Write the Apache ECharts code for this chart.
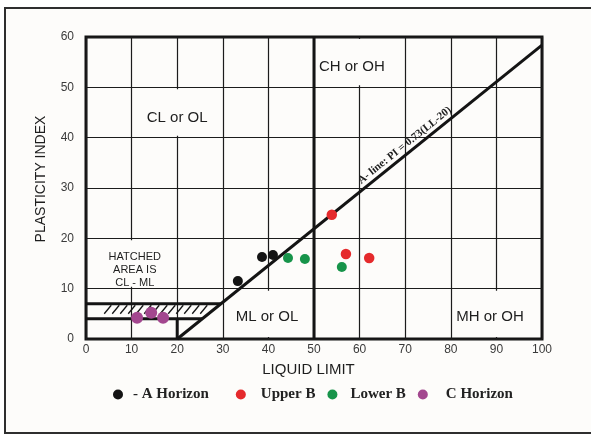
<!DOCTYPE html>
<html>
<head>
<meta charset="utf-8">
<title>Plasticity chart</title>
<script src="https://cdn.jsdelivr.net/npm/echarts@6/dist/echarts.min.js"></script>
<style>
  html, body { margin: 0; padding: 0; background: #ffffff; }
  #chart { width: 591px; height: 436px; }
</style>
</head>
<body>
<div id="chart"></div>
<script>
// Liquid limit (LL, %) and plasticity index (PI, %) of the samples, by horizon
const aHorizonLL = [33.3, 38.6, 41.0];
const aHorizonPI = [11.5, 16.3, 16.7];
const upperBLL = [53.9, 57.0, 62.1];
const upperBPI = [24.7, 16.9, 16.1];
const lowerBLL = [44.3, 48.0, 56.1];
const lowerBPI = [16.1, 15.9, 14.3];
const cHorizonLL = [11.2, 14.3, 16.9];
const cHorizonPI = [4.2, 5.2, 4.2];

const seriesNames = ['A Horizon', 'Upper B', 'Lower B', 'C Horizon'];
const legendLabels = ['- A Horizon\u00a0\u00a0\u00a0\u00a0', 'Upper B', 'Lower B', 'C Horizon'];

// Axis ticks
const llTicks = [0, 10, 20, 30, 40, 50, 60, 70, 80, 90, 100];
const piTicks = [0, 10, 20, 30, 40, 50, 60];

// Casagrande classification lines
const aLineSlope = 0.73;
const aLineOrigin = 20;
const llDivide = 50;
const clmlBand = [4, 7];

// Soil-group zones: names, text anchors (LL, PI) and the grid cell span each label clears
const zoneNames = ['CL or OL', 'CH or OH', 'ML or OL', 'MH or OH', 'HATCHED\nAREA IS\nCL - ML'];
const zoneAnchors = [[20, 44], [58.3, 54], [39.7, 4.3], [88.6, 4.4], [10.7, 13.7]];
const zoneCells = [[12, 28, 40, 50], [52, 68, 50, 60], [33, 47, 0, 10], [82, 98, 0, 10], [2, 18, 10, 20]];

const aLine = ll => aLineSlope * (ll - aLineOrigin);
const aLineLL = pi => aLineOrigin + pi / aLineSlope;

const paper = '#fdfcfa';
const ink = '#141414';
const sans = "'Liberation Sans', Arial, sans-serif";
const serif = "'Liberation Serif', 'Times New Roman', serif";

const xMin = llTicks[0], xMax = llTicks[llTicks.length - 1];
const yMin = piTicks[0], yMax = piTicks[piTicks.length - 1];

const boundaryLines = [
  [llDivide, yMin, llDivide, yMax],
  [xMin, clmlBand[0], aLineLL(clmlBand[0]), clmlBand[0]],
  [xMin, clmlBand[1], aLineLL(clmlBand[1]), clmlBand[1]],
  [aLineOrigin, yMin, aLineOrigin, clmlBand[0]],
  [aLineOrigin, yMin, xMax, aLine(xMax)]
];

const pairs = (xs, ys) => xs.map((x, i) => [x, ys[i]]);
const samples = [
  pairs(aHorizonLL, aHorizonPI),
  pairs(upperBLL, upperBPI),
  pairs(lowerBLL, lowerBPI),
  pairs(cHorizonLL, cHorizonPI)
];
const dotColors = ['#141414', '#e52a2c', '#17944a', '#a3478f'];
const dotSizes = [10, 10.5, 10, 12];

const chart = echarts.init(document.getElementById('chart'));

const scatterSeries = samples.map((data, k) => ({
  name: seriesNames[k],
  type: 'scatter',
  data: data,
  symbol: 'circle',
  symbolSize: dotSizes[k],
  itemStyle: { color: dotColors[k], opacity: 1 },
  z: 6,
  silent: true
}));

chart.setOption({
  animation: false,
  backgroundColor: 'transparent',
  graphic: [{
    type: 'rect',
    z: -10,
    shape: { x: 5, y: 8, width: 600, height: 425 },
    style: { fill: paper, stroke: '#2e2e2e', lineWidth: 2 }
  }],
  grid: {
    left: 86, right: 49, top: 37, bottom: 97,
    show: true,
    backgroundColor: 'transparent',
    borderColor: ink,
    borderWidth: 3
  },
  xAxis: {
    type: 'value',
    min: xMin, max: xMax, interval: 10,
    name: 'LIQUID LIMIT',
    nameLocation: 'middle',
    nameGap: 23,
    nameTextStyle: { fontFamily: sans, fontSize: 15, color: '#1e1e1e', padding: [0, 11, 0, 0] },
    axisLine: { show: false },
    axisTick: { show: false },
    axisLabel: { fontFamily: sans, fontSize: 12, color: '#3a3a3a', margin: 5 },
    splitLine: { show: true, lineStyle: { color: '#1c1c1c', width: 1.2 } }
  },
  yAxis: {
    type: 'value',
    min: yMin, max: yMax, interval: 10,
    name: 'PLASTICITY INDEX',
    nameLocation: 'middle',
    nameRotate: 90,
    nameGap: 38,
    nameTextStyle: { fontFamily: sans, fontSize: 14, color: '#1e1e1e', padding: [0, 0, 0, 18] },
    axisLine: { show: false },
    axisTick: { show: false },
    axisLabel: { fontFamily: sans, fontSize: 12, color: '#3a3a3a', margin: 12 },
    splitLine: { show: true, lineStyle: { color: '#1c1c1c', width: 1.2 } }
  },
  legend: {
    show: true,
    top: 387,
    left: 113,
    padding: 0,
    icon: 'circle',
    itemWidth: 10,
    itemHeight: 10,
    itemGap: 12,
    selectedMode: false,
    textStyle: { fontFamily: serif, fontWeight: 'bold', fontSize: 15, color: '#222' },
    formatter: name => legendLabels[seriesNames.indexOf(name)],
    data: [
      { name: seriesNames[0], textStyle: { padding: [0, 0, 0, 5] } },
      { name: seriesNames[1], textStyle: { padding: [0, 0, 0, 10] } },
      { name: seriesNames[2], textStyle: { padding: [0, 0, 0, 8] } },
      { name: seriesNames[3], textStyle: { padding: [0, 0, 0, 13] } }
    ]
  },
  series: [
    {
      // white panels behind the zone names
      type: 'custom',
      z: 2,
      silent: true,
      data: zoneAnchors.map((p, i) => [p[0], p[1], i]),
      encode: { x: 0, y: 1 },
      renderItem: (params, api) => {
        const i = api.value(2);
        const c = zoneCells[i];
        const p0 = api.coord([c[0], c[3]]);
        const p1 = api.coord([c[1], c[2]]);
        const p = api.coord([api.value(0), api.value(1)]);
        const small = zoneNames[i].indexOf('\n') >= 0;
        return {
          type: 'group',
          children: [
            {
              type: 'rect',
              shape: { x: p0[0], y: p0[1] + 2, width: p1[0] - p0[0], height: p1[1] - p0[1] - 4 },
              style: { fill: paper }
            },
            {
              type: 'text',
              x: p[0], y: p[1],
              style: {
                text: zoneNames[i],
                fill: '#1e1e1e',
                font: (small ? '11px ' : '15px ') + sans,
                lineHeight: small ? 13 : 17,
                align: 'center',
                verticalAlign: 'middle'
              }
            }
          ]
        };
      }
    },
    {
      // hatching of the CL-ML band
      type: 'custom',
      z: 3,
      silent: true,
      data: [[4, clmlBand[0], clmlBand[1]]],
      encode: { x: 0, y: 1 },
      renderItem: (params, api) => {
        const lo = api.value(1), hi = api.value(2);
        const yLo = api.coord([0, lo])[1];
        const yHi = api.coord([0, hi])[1];
        const yA = yHi + 0.66 * (yLo - yHi);
        const yB = yHi + 1.5;
        const piA = lo + 0.34 * (hi - lo);
        const xStart = api.coord([api.value(0), lo])[0];
        const limA = api.coord([aLineLL(piA), piA])[0] - 3;
        const limB = api.coord([aLineLL(hi), hi])[0] - 3;
        const strokes = [];
        for (let x = xStart; x + 7 < limB && x < limA; x += 8) {
          strokes.push({
            type: 'line',
            shape: { x1: x, y1: yA, x2: x + 7, y2: yB },
            style: { stroke: ink, lineWidth: 1.3 }
          });
        }
        return { type: 'group', children: strokes };
      }
    },
    {
      // A-line, LL = 50 divide and CL-ML band limits
      type: 'custom',
      z: 4,
      silent: true,
      data: boundaryLines,
      encode: { x: [0, 2], y: [1, 3] },
      renderItem: (params, api) => {
        const a = api.coord([api.value(0), api.value(1)]);
        const b = api.coord([api.value(2), api.value(3)]);
        return {
          type: 'line',
          shape: { x1: a[0], y1: a[1], x2: b[0], y2: b[1] },
          style: { stroke: ink, lineWidth: 3 }
        };
      }
    },
    {
      // A-line caption
      type: 'custom',
      z: 5,
      silent: true,
      data: [[71, aLine(71)]],
      encode: { x: 0, y: 1 },
      renderItem: (params, api) => {
        const p = api.coord([api.value(0), api.value(1)]);
        const s = api.coord([aLineOrigin, 0]);
        const e = api.coord([xMax, aLine(xMax)]);
        const ang = Math.atan2(s[1] - e[1], e[0] - s[0]);
        const off = 2.5;
        return {
          type: 'text',
          x: p[0] - Math.sin(ang) * off,
          y: p[1] - Math.cos(ang) * off,
          rotation: ang,
          style: {
            text: 'A- line: PI = 0.73(LL-20)',
            fill: '#1e1e1e',
            font: 'bold 11px ' + serif,
            align: 'center',
            verticalAlign: 'bottom'
          }
        };
      }
    }
  ].concat(scatterSeries)
});
</script>
</body>
</html>
